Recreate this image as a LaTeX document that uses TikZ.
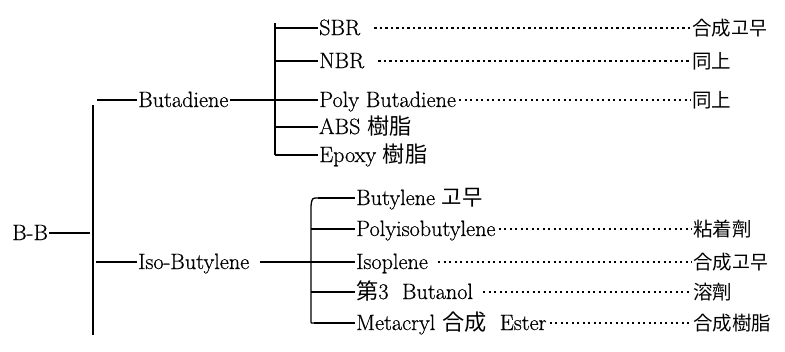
\documentclass[tikz,border=0pt]{standalone}
\usepackage{fontspec}
\setmainfont{Latin Modern Roman}[FakeBold=0.6]
\newfontfamily\cjk{Noto Sans CJK KR}
\begin{document}
\begin{tikzpicture}[x=1pt,y=-1pt,
  lbl/.style={anchor=west,inner xsep=1pt,inner ysep=0pt,text height=14pt,text depth=0pt,
    font=\fontsize{22.2}{26}\selectfont},
  rlbl/.style={lbl,font=\fontsize{19.5}{24}\selectfont\cjk,text height=14pt},
  conn/.style={line width=1.1pt},
  brk/.style={line width=1.3pt},
  dotline/.style={line width=2.2pt,dash pattern=on 2.2pt off 3.3pt}]
\useasboundingbox (0,0) rectangle (785,351);

% nodes
\node[lbl] (bb) at (11,233) {B-B};
\node[lbl] (bd) at (137,100) {Butadiene};
\node[lbl] (ib) at (137,262) {Iso-Butylene};

\node[lbl] (sbr) at (318,28) {SBR};
\node[lbl] (nbr) at (318,61) {NBR};
\node[lbl] (pbd) at (318,100) {Poly Butadiene};
\node[lbl] (abs) at (318,127) {ABS {\cjk 樹脂}};
\node[lbl] (epx) at (318,155) {Epoxy {\cjk 樹脂}};

\node[rlbl] (r1) at (691,28) {合成고무};
\node[rlbl] (r2) at (691,61) {同上};
\node[rlbl] (r3) at (691,100) {同上};

\node[lbl] (bty) at (355,198) {Butylene {\cjk 고무}};
\node[lbl] (pib) at (355,229) {Polyisobutylene};
\node[lbl] (isp) at (355,262) {Isoplene};
\node[lbl] (bnl) at (355,292) {{\cjk 第}3\ \ Butanol};
\node[lbl] (met) at (355,323) {Metacryl {\cjk 合成}\ \ Ester};

\node[rlbl] (r4) at (692,229) {粘着劑};
\node[rlbl] (r5) at (692,262) {合成고무};
\node[rlbl] (r6) at (692,292) {溶劑};
\node[rlbl] (r7) at (692,323) {合成樹脂};

% coordinates
\coordinate (mt) at (93,105);
\coordinate (mb) at (93,335);
\coordinate (mj) at (90,233);
\coordinate (bs) at (97,100);
\coordinate (is) at (96,262);
\coordinate (bt) at (275,23);
\coordinate (bbm) at (275,155);
\coordinate (it) at (318,198);
\coordinate (ib2) at (311,322);

% main tree
\draw[brk] (mt) -- (mb);
\draw[conn] (bb.east) -- (mj);
\draw[conn] (bs) -- (bd.west);
\draw[conn] (is) -- (ib.west);

% Butadiene bracket
\draw[conn] (bd.east) -- (bt |- bd.west);
\draw[brk] (bt) -- (bbm);
\foreach \n in {sbr,nbr,pbd,abs,epx}
  \draw[conn] (bt |- \n.west) -- (\n.west);

% Iso-Butylene bracket
\draw[conn,shorten <=10pt] (ib.east) -- (ib2 |- ib.west);
\draw[brk] (it) .. controls (312,198) .. (311,206) -- (ib2) .. controls (311,323) .. (314,323);
\foreach \n in {pib,isp,bnl}
  \draw[conn] (ib2 |- \n.west) -- (\n.west);
\draw[conn] (it) -- (bty.west);
\draw[conn] (314,323) -- (met.west);

% dotted leaders
\draw[dotline,shorten <=13pt] (sbr.east) -- (r1.west);
\draw[dotline,shorten <=13pt] (nbr.east) -- (r2.west);
\draw[dotline,shorten <=2pt] (pbd.east) -- (r3.west);
\draw[dotline,shorten <=2pt] (pib.east) -- (r4.west);
\draw[dotline,shorten <=9pt] (isp.east) -- (r5.west);
\draw[dotline,shorten <=9pt] (bnl.east) -- (r6.west);
\draw[dotline,shorten <=2pt] (met.east) -- (r7.west);
\end{tikzpicture}
\end{document}
